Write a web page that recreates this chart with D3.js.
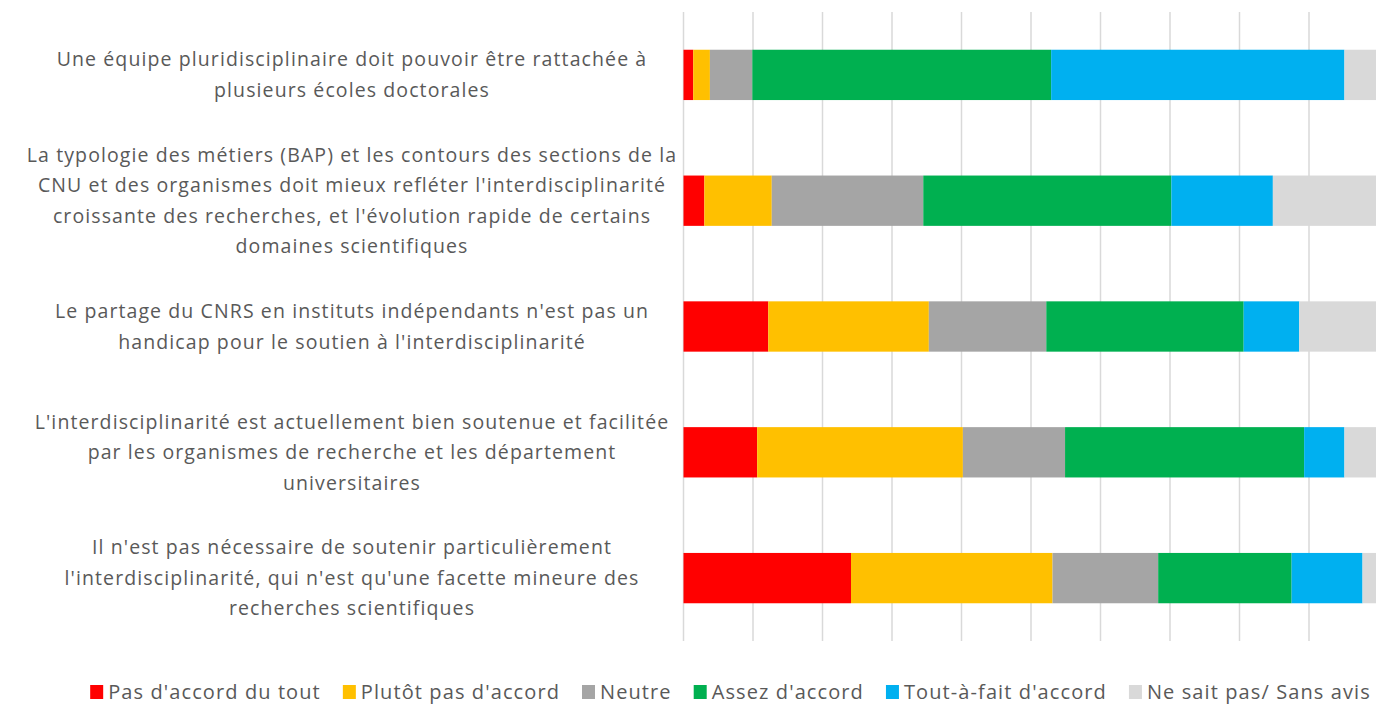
<!DOCTYPE html>
<html>
<head>
<meta charset="utf-8" />
<title></title>
<style>
html, body {
    margin: 0;
    padding: 0;
    background: #fff;
}
svg text {
    font-family: "Open Sans", "Noto Sans", sans-serif;
    fill: #595959;
}
</style>
</head>
<body>
<svg id="chart" width="1376" height="705"></svg>
<script src="https://cdnjs.cloudflare.com/ajax/libs/d3/7.8.5/d3.min.js"></script>
<script>
// questions, already cut in lines like the original
var categories = [
    ["Une équipe pluridisciplinaire doit pouvoir être rattachée à", "plusieurs écoles doctorales"],
    ["La typologie des métiers (BAP) et les contours des sections de la", "CNU et des organismes doit mieux refléter l'interdisciplinarité", "croissante des recherches, et l'évolution rapide de certains", "domaines scientifiques"],
    ["Le partage du CNRS en instituts indépendants n'est pas un", "handicap pour le soutien à l'interdisciplinarité"],
    ["L'interdisciplinarité est actuellement bien soutenue et facilitée", "par les organismes de recherche et les département", "universitaires"],
    ["Il n'est pas nécessaire de soutenir particulièrement", "l'interdisciplinarité, qui n'est qu'une facette mineure des", "recherches scientifiques"]
]

var seriesNames = ["Pas d'accord du tout", "Plutôt pas d'accord", "Neutre", "Assez d'accord", "Tout-à-fait d'accord", "Ne sait pas/ Sans avis"]
var seriesColors = ["#ff0000", "#ffc000", "#a5a5a5", "#00b050", "#00b0f0", "#d9d9d9"]

// % per question, one array per answer
var pasDuTout   = [1.4, 3.0, 12.2, 10.6, 24.1]
var plutotPas   = [2.4, 9.7, 23.1, 29.6, 29.0]
var neutre      = [6.1, 21.8, 16.9, 14.7, 15.2]
var assez       = [43.0, 35.7, 28.4, 34.4, 19.2]
var toutAFait   = [42.2, 14.6, 8.0, 5.8, 10.2]
var sansAvis    = [4.9, 15.2, 11.4, 4.9, 2.3]

var xTicks = [0, 10, 20, 30, 40, 50, 60, 70, 80, 90, 100]

var svg = d3.select("#chart")

var table = categories.map(function(c, i) {
    return {
        idx: i,
        s0: pasDuTout[i], s1: plutotPas[i], s2: neutre[i],
        s3: assez[i], s4: toutAFait[i], s5: sansAvis[i]
    }
})
var keys = ["s0", "s1", "s2", "s3", "s4", "s5"]

var x = d3.scaleLinear().domain([0, 100]).range([683.5, 1378.5])
var y = d3.scaleBand().domain(d3.range(categories.length)).range([12, 641]).paddingInner(0.6).paddingOuter(0.3)

// gridlines
svg.append("g")
    .selectAll("line")
    .data(xTicks)
    .enter()
    .append("line")
    .attr("x1", function(d){ return x(d) })
    .attr("x2", function(d){ return x(d) })
    .attr("y1", 12)
    .attr("y2", 641)
    .attr("stroke", "#d9d9d9")
    .attr("stroke-width", 1.5)

var stack = d3.stack().keys(keys)(table)

svg.append("g")
    .selectAll("g")
    .data(stack)
    .enter()
    .append("g")
    .attr("fill", function(d, i){ return seriesColors[i] })
    .selectAll("rect")
    .data(function(d){ return d })
    .enter()
    .append("rect")
    .attr("x", function(d){ return x(d[0]) })
    .attr("width", function(d){ return x(d[1]) - x(d[0]) })
    .attr("y", function(d){ return y(d.data.idx) })
    .attr("height", y.bandwidth())

// category labels
var lineH = 30.5
var labels = svg.append("g")
    .attr("font-size", 19.5)
    .attr("letter-spacing", 1.1)
    .attr("text-anchor", "middle")

categories.forEach(function(lines, i) {
    var cy = y(i) + y.bandwidth() / 2
    var y0 = cy - (lines.length - 1) * lineH / 2
    var t = labels.append("text")
    lines.forEach(function(l, j) {
        t.append("tspan")
            .attr("x", 352)
            .attr("y", y0 + j * lineH)
            .attr("dy", "0.35em")
            .text(l)
    })
})

// legend
var legend = svg.append("g").attr("font-size", 20).attr("letter-spacing", 1.1)
var lx = 0
seriesNames.forEach(function(name, i) {
    var g = legend.append("g").attr("transform", "translate(" + lx + ",0)")
    g.append("rect")
        .attr("x", 0).attr("y", -7).attr("width", 13).attr("height", 14)
        .attr("fill", seriesColors[i])
    var t = g.append("text")
        .attr("x", 18)
        .attr("dy", "0.35em")
        .text(name)
    var w = t.node().getComputedTextLength()
    lx += 18 + w + 22
})
var total = lx - 22
legend.attr("transform", "translate(" + (730.5 - total / 2) + ",692)")
</script>
</body>
</html>
